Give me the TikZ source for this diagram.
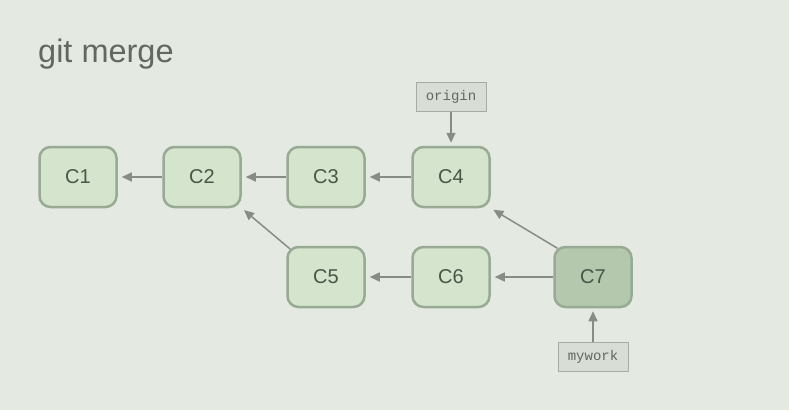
\documentclass[tikz,border=0pt]{standalone}
\usepackage{fontspec}
\setmainfont{Liberation Sans}
\setmonofont{Liberation Mono}
\usetikzlibrary{arrows.meta, positioning}

\definecolor{bgcol}{RGB}{228,233,226}
\definecolor{commitfill}{RGB}{212,228,205}
\definecolor{mergefill}{RGB}{180,200,174}
\definecolor{commitline}{RGB}{152,170,147}
\definecolor{committext}{RGB}{72,86,70}
\definecolor{branchfill}{RGB}{216,221,214}
\definecolor{branchline}{RGB}{165,172,163}
\definecolor{arrowcol}{RGB}{135,141,133}
\definecolor{titlecol}{RGB}{98,104,97}

\tikzset{
    commit/.style = {draw=commitline, fill=commitfill, line width=2.5pt, rounded corners=11pt,
                     minimum width=77pt, minimum height=60pt, text=committext,
                     font=\fontsize{20}{24}\selectfont},
    merged/.style = {commit, fill=mergefill},
    branch/.style = {draw=branchline, fill=branchfill, line width=1pt, minimum width=70pt,
                     minimum height=29pt, text=titlecol, font=\ttfamily\fontsize{14}{16}\selectfont},
    link/.style = {-{Triangle[width=9pt,length=10pt]}, line width=1.5pt, draw=arrowcol}
}

\begin{document}
\begin{tikzpicture} [node distance = 124pt, on grid, auto]
    \fill[bgcol] (0,0) rectangle (789pt,-410pt);
    \useasboundingbox (0,0) rectangle (789pt,-410pt);

    \node (title) [anchor=base west, text=titlecol, font=\fontsize{32.5}{38}\selectfont, inner sep=0pt]
        at (38pt,-62pt) {git merge};

    \node (c1) [commit] at (78pt,-177pt) {C1};
    \node (c2) [commit, right = of c1] {C2};
    \node (c3) [commit, right = of c2] {C3};
    \node (c4) [commit, right = 125pt of c3] {C4};
    \node (c5) [commit, below = 100pt of c3] {C5};
    \node (c6) [commit, below = 100pt of c4] {C6};
    \node (c7) [merged, right = 142pt of c6] {C7};

    \node (origin) [branch, above = 80pt of c4] {origin};
    \node (mywork) [branch, below = 80pt of c7] {mywork};

    \draw[link, shorten >=4pt] (c2) -- (c1);
    \draw[link, shorten >=4pt] (c3) -- (c2);
    \draw[link, shorten >=4pt] (c4) -- (c3);
    \draw[link, shorten >=4pt] (c6) -- (c5);
    \draw[link, shorten >=4pt] (c7) -- (c6);
    \draw[link, shorten <=-5pt, shorten >=3pt] (c5.north west) -- (c2.south east);
    \draw[link, shorten <=-5pt, shorten >=3pt] (c7.north west) -- (c4.south east);
    \draw[link, shorten >=3pt] (origin) -- (c4);
    \draw[link, shorten >=3pt] (mywork) -- (c7);
\end{tikzpicture}
\end{document}
